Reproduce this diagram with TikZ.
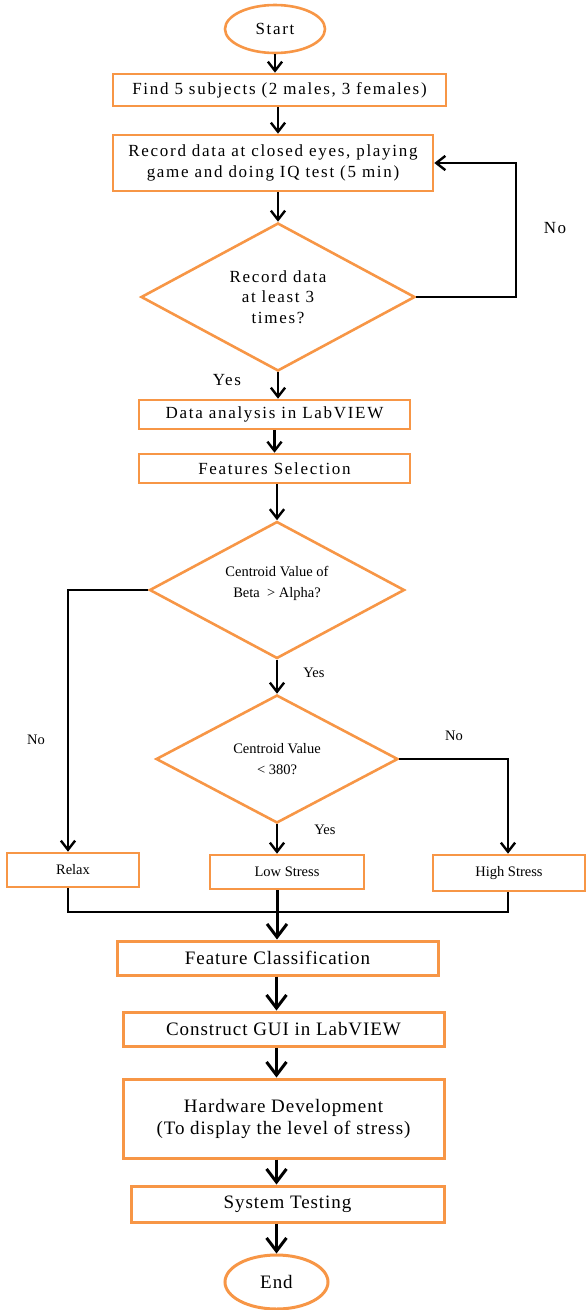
\documentclass[tikz,border=0pt]{standalone}
\usepackage{fontspec}
\setmainfont{Liberation Serif}
\newfontfamily\wideserif[LetterSpace=10]{Liberation Serif}
\newfontfamily\lowserif[LetterSpace=5]{Liberation Serif}
\usetikzlibrary{arrows.meta,shapes.geometric}
\definecolor{floworange}{RGB}{247,150,70}

\begin{document}
\begin{tikzpicture}[x=1pt,y=-1pt,
        box/.style={draw=floworange,line width=2.6pt,inner sep=0pt,align=center},
        topbox/.style={box,font=\wideserif\fontsize{17}{21}\selectfont},
        lowbox/.style={box,line width=3pt,font=\lowserif\fontsize{19}{22}\selectfont},
        smallbox/.style={box,font=\fontsize{14.5}{21}\selectfont},
        term/.style={ellipse,draw=floworange,line width=2.6pt,inner sep=0pt},
        dec/.style={diamond,aspect=1.85,draw=floworange,line width=2.6pt,
                    inner sep=0pt,align=center},
        lbl/.style={font=\wideserif\fontsize{17}{21}\selectfont},
        slbl/.style={font=\fontsize{14.5}{21}\selectfont},
        ar/.style={-{Straight Barb[length=3.2mm,width=5mm]},line width=2.4pt},
        arb/.style={-{Straight Barb[length=4.6mm,width=7mm]},line width=3pt},
        ln/.style={line width=2.4pt}]
      \useasboundingbox (0,0) rectangle (586,1310);
      \node[term,minimum width=100,minimum height=48,font=\wideserif\fontsize{17}{21}\selectfont] (start) at (275,29) {Start};
      \node[topbox,minimum width=333,minimum height=32] (find) at (279.5,90)
        {Find 5 subjects (2 males, 3 females)};
      \node[topbox,minimum width=320,minimum height=56] (rec) at (273,163)
        {Record data at closed eyes, playing\\game and doing IQ test (5 min)};
      \node[dec,minimum width=274,minimum height=148,font=\wideserif\fontsize{17}{20.5}\selectfont] (d1) at (278,297)
        {Record data\\at least 3\\times?};
      \node[topbox,minimum width=271,minimum height=29] (data) at (274.5,414.5)
        {Data analysis in LabVIEW};
      \node[topbox,minimum width=271,minimum height=29] (feat) at (274.5,468.5)
        {Features Selection};
      \node[dec,minimum width=255,minimum height=137,font=\fontsize{14.5}{21}\selectfont] (d2) at (277,590)
        {Centroid Value of\\Beta \ > Alpha?\\[-5pt]\mbox{}};
      \node[dec,minimum width=242,minimum height=128,font=\fontsize{14.5}{21}\selectfont] (d3) at (277,759)
        {Centroid Value\\< 380?};
      \node[smallbox,minimum width=132,minimum height=34] (relax) at (73,870) {Relax};
      \node[smallbox,minimum width=154,minimum height=34] (low) at (287,872) {Low Stress};
      \node[smallbox,minimum width=152,minimum height=36] (high) at (509,873) {High Stress};
      \node[lowbox,minimum width=321,minimum height=34] (cls) at (277.5,958)
        {Feature Classification};
      \node[lowbox,minimum width=321,minimum height=34] (gui) at (283.5,1029)
        {Construct GUI in LabVIEW};
      \node[lowbox,minimum width=321,minimum height=79] (hw) at (283.5,1118.5)
        {Hardware Development\\(To display the level of stress)};
      \node[lowbox,minimum width=313,minimum height=36] (sys) at (287.5,1204)
        {System Testing};
      \node[term,minimum width=103,minimum height=54,line width=3pt,
            font=\lowserif\fontsize{19}{22}\selectfont] (end) at (276.5,1282) {End};

      \coordinate (loop) at (516,297);
      \coordinate (lft) at (68,590);
      \coordinate (rgt) at (508,759);
      \coordinate (jn) at (277,912);

      \node[lbl] (no1) at (555,228) {No};
      \node[lbl] (yes1) at (227,380) {Yes};
      \node[slbl] (no2) at (36,740) {No};
      \node[slbl] (yes2) at (314,673) {Yes};
      \node[slbl] (no3) at (454,736) {No};
      \node[slbl] (yes3) at (325,830) {Yes};

      \draw[ar] (start.south) -- (start.south |- find.north);
      \draw[ar] (d1.north |- find.south) -- (d1.north |- rec.north);
      \draw[ar] (d1.north |- rec.south) -- (d1.north);
      \draw[ar] (d1.east) -- (loop) |- (rec.east);
      \draw[ar] (d1.south) -- (d1.south |- data.north);
      \draw[ar] (data.south) -- (feat.north);
      \draw[ar] (d2.north |- feat.south) -- (d2.north);
      \draw[ar] (d2.west) -- (lft) -- (lft |- relax.north);
      \draw[ar] (d2.south) -- (d3.north);
      \draw[ar] (d3.east) -- (rgt) -- (rgt |- high.north);
      \draw[ar] (d3.south) -- (d3.south |- low.north);
      \draw[ln] (lft |- relax.south) |- (rgt |- jn) -- (rgt |- high.south);
      \draw[arb] (jn |- low.south) -- (jn |- cls.north);
      \draw[arb] (end.north |- cls.south) -- (end.north |- gui.north);
      \draw[arb] (end.north |- gui.south) -- (end.north |- hw.north);
      \draw[arb] (end.north |- hw.south) -- (end.north |- sys.north);
      \draw[arb] (end.north |- sys.south) -- (end.north);
    \end{tikzpicture}
\end{document}
